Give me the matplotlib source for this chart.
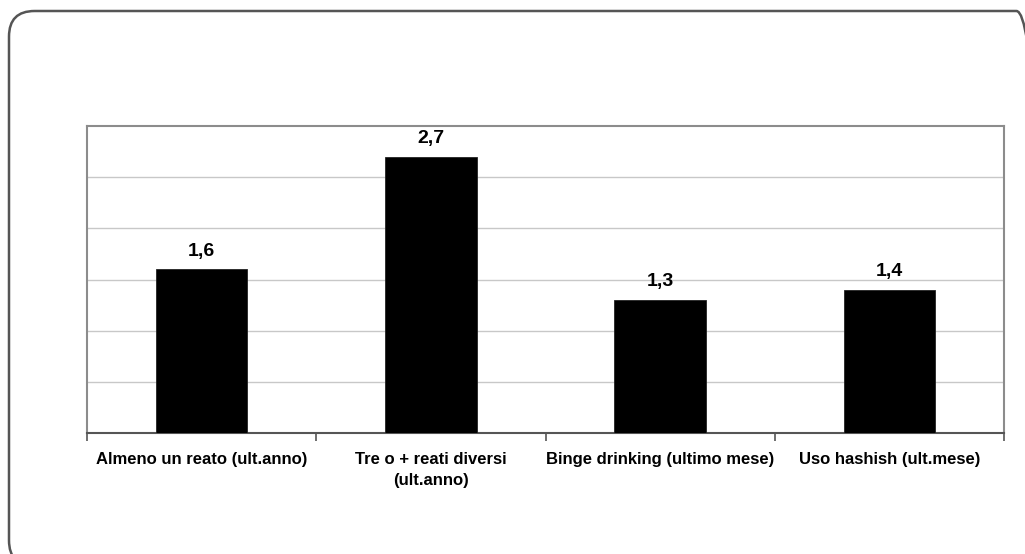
import matplotlib
matplotlib.use("Agg")
import matplotlib.pyplot as plt
from matplotlib.patches import FancyBboxPatch
import numpy as np

# Indicatori e rapporti
categorie = [
    "Almeno un reato (ult.anno)",
    "Tre o + reati diversi\n(ult.anno)",
    "Binge drinking (ultimo mese)",
    "Uso hashish (ult.mese)",
]
valori = [1.6, 2.7, 1.3, 1.4]

plt.rcParams["font.family"] = ["Liberation Sans", "DejaVu Sans"]

fig = plt.figure(figsize=(10.25, 5.54), dpi=100)
W, H = 1025, 554

# Cornice arrotondata attorno al grafico
cornice = FancyBboxPatch((9 / W, -12 / H), (1042 - 9) / W, (554 - 11 + 12) / H,
                         boxstyle="round,pad=0,rounding_size=0.025",
                         transform=fig.transFigure, facecolor="none",
                         edgecolor="#555555", linewidth=1.8, clip_on=False,
                         mutation_aspect=W / H)
fig.patches.append(cornice)

ax = fig.add_axes([87 / W, (554 - 433) / H, (1004 - 87) / W, (433 - 126) / H])

x = np.arange(len(categorie))
barre = ax.bar(x, valori, width=0.4, color="black", edgecolor="#222222",
               linewidth=0.6, zorder=3)

for b, v in zip(barre, valori):
    ax.annotate(f"{v:.1f}".replace(".", ","),
                (b.get_x() + b.get_width() / 2, b.get_height()),
                xytext=(0, 7), textcoords="offset points",
                ha="center", va="bottom", fontsize=14, fontweight="bold")

ax.set_xlim(-0.5, len(categorie) - 0.5)
ax.set_ylim(0, 3)
ax.set_yticks(np.arange(0.5, 3.0, 0.5))
ax.yaxis.grid(True, color="#c8c8c8", linewidth=1.0, zorder=0)
ax.tick_params(axis="y", length=0, labelleft=False)

# Tacche ai confini delle categorie, etichette al centro
ax.set_xticks(np.arange(-0.5, len(categorie), 1.0))
ax.set_xticklabels([])
ax.set_xticks(x, minor=True)
ax.set_xticklabels(categorie, minor=True, fontsize=12, fontweight="bold",
                   linespacing=1.45)
ax.tick_params(axis="x", which="minor", length=0, pad=14)
ax.tick_params(axis="x", which="major", length=6, width=1.2, color="#555555",
               direction="out")

for lato in ("left", "top", "right"):
    ax.spines[lato].set_color("#8c8c8c")
    ax.spines[lato].set_linewidth(1.5)
ax.spines["bottom"].set_color("#555555")
ax.spines["bottom"].set_linewidth(1.5)

fig.savefig("out.png", dpi=100)
